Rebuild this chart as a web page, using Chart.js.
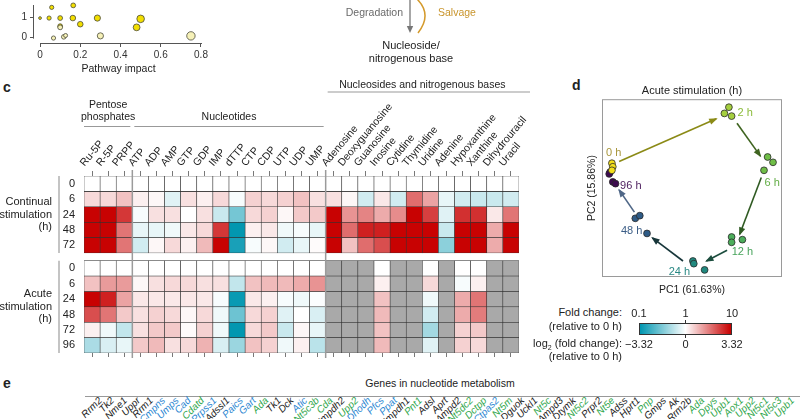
<!DOCTYPE html>
<html>
<head>
<meta charset="utf-8">
<title>Nucleotide metabolism</title>
<script src="https://cdn.jsdelivr.net/npm/chart.js@4.4.1/dist/chart.umd.min.js"></script>
<style>
  body { margin: 0; width: 800px; height: 419px; overflow: hidden; position: relative; background: #fff;
         font-family: 'Liberation Sans', Arial, sans-serif; color: #222; }
  canvas, .txt, .gene, svg { position: absolute; }
  .txt { white-space: nowrap; line-height: 1; }
  .panel { font-weight: bold; font-size: 14px; }
  .gene { font-style: italic; font-size: 10px; line-height: 12px; white-space: nowrap;
          transform-origin: 100% 50%; transform: rotate(-45deg); }
</style>
</head>
<body>

<canvas id="bubbleChart" width="230" height="78" style="left:0;top:0"></canvas>

<svg width="800" height="70" style="left:0;top:0">
  <line x1="410" y1="-2" x2="410" y2="27" stroke="#777" stroke-width="1.3"/>
  <polygon points="410,33 406.8,26 413.2,26" fill="#777"/>
  <path d="M416 -2 Q 433 14 418 33" fill="none" stroke="#d49a2c" stroke-width="1.5"/>
  <text x="403" y="16" text-anchor="end" font-size="10.5" fill="#6a6a6a" font-family="Liberation Sans">Degradation</text>
  <text x="438" y="16" font-size="10.5" fill="#c9952c" font-family="Liberation Sans">Salvage</text>
  <text x="411" y="49" text-anchor="middle" font-size="11" fill="#222" font-family="Liberation Sans">Nucleoside/</text>
  <text x="411" y="62" text-anchor="middle" font-size="11" fill="#222" font-family="Liberation Sans">nitrogenous base</text>
</svg>

<div class="txt panel" style="left:3px;top:80px">c</div>
<canvas id="heatChart" width="540" height="290" style="left:0;top:75px"></canvas>

<div class="txt panel" style="left:572px;top:78px">d</div>
<canvas id="pcaChart" width="240" height="225" style="left:560px;top:75px"></canvas>

<div class="txt" style="right:178px;top:307px;font-size:11px">Fold change:</div>
<div class="txt" style="right:178px;top:321px;font-size:11px">(relative to 0 h)</div>
<div class="txt" style="right:178px;top:338px;font-size:11px">log<sub style="font-size:7px">2</sub> (fold change):</div>
<div class="txt" style="right:178px;top:351px;font-size:11px">(relative to 0 h)</div>
<div id="colorBar" style="position:absolute;left:639px;top:323px;width:93px;height:12px;border:1px solid #333;box-sizing:border-box"></div>
<div style="position:absolute;left:685px;top:320px;width:1px;height:4px;background:#333"></div>
<div style="position:absolute;left:685px;top:334px;width:1px;height:4px;background:#333"></div>
<div class="txt" style="left:639px;top:308px;font-size:11px;transform:translateX(-50%)">0.1</div>
<div class="txt" style="left:685.5px;top:308px;font-size:11px;transform:translateX(-50%)">1</div>
<div class="txt" style="left:732px;top:308px;font-size:11px;transform:translateX(-50%)">10</div>
<div class="txt" style="left:639px;top:339px;font-size:11px;transform:translateX(-50%)">&minus;3.32</div>
<div class="txt" style="left:685.5px;top:339px;font-size:11px;transform:translateX(-50%)">0</div>
<div class="txt" style="left:732px;top:339px;font-size:11px;transform:translateX(-50%)">3.32</div>

<div class="txt panel" style="left:3px;top:376px">e</div>
<div class="txt" style="left:440px;top:378px;font-size:10.5px;transform:translateX(-50%)">Genes in nucleotide metabolism</div>
<div style="position:absolute;left:85px;top:396px;width:715px;height:1px;background:#999"></div>
<div id="genes"></div>

<script>
'use strict';

Chart.defaults.font.family = "'Liberation Sans', Arial, sans-serif";
Chart.defaults.color = '#222';

// ---- Panel b (partial): pathway impact bubbles ----
let impactSig = [0, 0.045, 0.1, 0.163, 0.285, 0.5, 0.2, 0.1, 0.48, 0.058, 0.165];
let logPSig = [0.98, 0.98, 0.98, 0.98, 0.98, 0.94, 0.67, 0.57, 0.51, 1.52, 1.62];
let sizeSig = [1.4, 2.1, 2.4, 2.8, 3.1, 3.8, 2.8, 2.4, 3.4, 2.1, 2.4];
let impactNs = [0.1, 0.067, 0.118, 0.127, 0.3, 0.75];
let logPNs = [0.51, -0.03, 0.03, 0.1, 0.08, 0.08];
let sizeNs = [2.4, 2.1, 2.3, 2.0, 3.1, 4.2];

// ---- Panel c: heatmap, log2 fold change vs 0 h (null = not detected) ----
let metabolites = ['Ru-5P', 'R-5P', 'PRPP', 'ATP', 'ADP', 'AMP', 'GTP', 'GDP', 'IMP', 'dTTP', 'CTP', 'CDP',
  'UTP', 'UDP', 'UMP', 'Adenosine', 'Deoxyguanosine', 'Guanosine', 'Inosine', 'Cytidine', 'Thymidine',
  'Uridine', 'Adenine', 'Hypoxanthine', 'Xanthine', 'Dihydrouracil', 'Uracil'];
let groupNames = [['Pentose', 'phosphates'], ['Nucleotides'], ['Nucleosides and nitrogenous bases']];
let groupSizes = [3, 12, 12];
let continualHours = ['0', '6', '24', '48', '72'];
let acuteHours = ['0', '6', '24', '48', '72', '96'];

let cont0h = [0, 0, 0, 0, 0, 0, 0, 0, 0, 0, 0, 0, 0, 0, 0, 0, 0, 0, 0, 0, 0, 0, 0, 0, 0, 0, 0];
let cont6h = [0.5, 0.5, 0.8, 0.2, 0.1, -0.4, 0.4, 0.2, 0.5, -0.1, 0.6, 0.5, 0.6, 0.8, 0.4,
  0.4, 0.1, -0.6, 0.3, -0.6, 1.9, 1.2, -0.3, -0.6, -0.7, -0.7, -0.6];
let cont24h = [3.3, 3.3, 2.6, -0.1, 0.4, 0.4, 0, 0.4, -0.7, -1.8, 0.5, 0.6, 0.1, 0.7, 0.7,
  3.3, 1.4, 1.6, 1.1, 1.5, 3.3, 2.5, -0.4, 2.7, 2.7, 0.3, 1.8];
let cont48h = [3.3, 3.3, 1.8, -0.3, -0.3, -0.2, 0.3, 0.5, 2.6, -3.3, 0.2, 0.3, -0.2, -0.1, -0.3,
  3.3, 1.9, 2.9, 2.9, 3.3, 3.3, 3.3, -0.7, 3.3, 3.3, 1.1, 3.3];
let cont72h = [3.3, 3.3, 1.8, -0.6, 0.1, 0.5, 0.2, 0.9, 3.3, -3.0, -0.1, 0.1, -0.6, -0.3, 0.05,
  3.3, 0.8, 1.9, 2.3, 3.3, 3.3, 3.3, -1.5, 3.3, 3.3, 1.1, 3.3];

let acute0h = [0, 0, 0, 0, 0, 0, 0, 0, 0, 0, 0, 0, 0, 0, 0,
  null, null, null, 0, null, null, 0, null, 0, 0, null, null];
let acute6h = [0.8, 1.3, 1.3, 0.1, 0.4, 0.5, 0.5, 0.4, 0.4, -0.8, 0.8, 0.9, 0.9, 1.1, 1.4,
  null, null, null, 0.2, null, null, 0.5, null, -0.1, 0.2, null, null];
let acute24h = [3.3, 2.9, 1.2, 0.3, 0.3, 0.3, 0.3, 0.3, -0.1, -3.2, 0.3, 0.2, -0.1, -0.2, -0.05,
  null, null, null, 0.8, null, null, -0.2, null, 1.1, 1.8, null, null];
let acute48h = [2.3, 1.8, 0.7, 0.4, 0.6, 0.5, 0.1, 0.5, -0.2, -1.9, 0.5, 0.6, -0.4, 0, -0.5,
  null, null, null, 0.9, null, null, -0.6, null, 1.1, 1.7, null, null];
let acute72h = [0.2, -0.2, -0.8, 0.4, 0.7, 0.7, 0.05, 0.6, -0.2, -3.3, 0.5, 0.7, -0.7, 0.1, -0.3,
  null, null, null, 0.8, null, null, -1.2, null, 0.6, 0.7, null, null];
let acute96h = [-1.1, -0.5, -0.3, 0.7, 0.9, 0.4, 0.5, 1.0, -0.5, -1.3, 0.8, 0.6, -0.2, 0.2, -0.9,
  null, null, null, 0.9, null, null, -0.4, null, 0.6, 0.5, null, null];

// ---- Panel d: PCA of acute stimulation ----
let timePoints = ['0 h', '2 h', '6 h', '12 h', '24 h', '48 h', '96 h'];
let pc1_0h = [-8.9, -8.8, -8.9];        let pc2_0h = [2.8, 2.4, 2.0];
let pc1_2h = [4.1, 3.6, 4.4];           let pc2_2h = [9.1, 8.4, 8.1];
let pc1_6h = [8.4, 9.0, 8.0];           let pc2_6h = [3.5, 2.9, 2.0];
let pc1_12h = [4.4, 4.4, 5.6];          let pc2_12h = [-5.5, -6.1, -5.8];
let pc1_24h = [0.1, 0.2, 1.4];          let pc2_24h = [-8.2, -8.5, -9.2];
let pc1_48h = [-6.3, -5.8, -5.0];       let pc2_48h = [-3.4, -3.1, -5.1];
let pc1_96h = [-9.1, -9.2, -8.8, -8.5]; let pc2_96h = [1.8, 1.6, 0.7, 0.5];
let arrowFrom = [[-8.1, 3.0], [5.0, 7.3], [7.7, 1.2], [3.9, -7.0], [-1.0, -8.2], [-6.4, -2.7]];
let arrowTo = [[2.7, 7.8], [7.6, 3.6], [5.3, -5.2], [1.6, -8.2], [-4.4, -5.6], [-8.1, -0.2]];
let labelPC1 = [-8.7, 5.9, 8.9, 5.6, -1.4, -6.7, -6.8];
let labelPC2 = [4.0, 8.5, 0.6, -7.2, -9.4, -4.8, 0.2];

// ---- Panel e: gene names (only their ends are in frame) ----
let geneNames = ['Rrm2', 'Tk2', 'Nme1', 'Uppr', 'Rrm1', 'Cmpns', 'Umps', 'Cad', 'Cdatd', 'Prpss1', 'Adssl1',
  'Paics', 'Gart', 'Ada', 'Tk1', 'Dck', 'Atic', 'Nt5c3b', 'Cda', 'Impdh2', 'Upp2', 'Dhodh', 'Pfcs', 'Ppat',
  'Impdh1', 'Pnt1', 'Adsl', 'Aprt', 'Ampd2', 'Nt5dc2', 'Dctpp', 'Ctpas2', 'Nt5m', 'Dguok', 'Uckl1', 'Nt5c',
  'Ampd3', 'Dtymk', 'Nt5c2', 'Prpr2', 'Nt5e', 'Adss', 'Hprt1', 'Pnp', 'Gmps', 'Ak', 'Rrm2b', 'Ada',
  'Dpys', 'Upb1', 'Aox1', 'Upp2', 'Nt5c1', 'Nt5c3', 'Upb1'];
let geneKinds = ['k', 'k', 'k', 'k', 'k', 'b', 'b', 'b', 'g', 'b', 'k', 'b', 'b', 'g', 'k', 'k', 'b', 'g', 'g',
  'k', 'g', 'b', 'b', 'b', 'k', 'g', 'k', 'k', 'k', 'g', 'g', 'b', 'g', 'k', 'k', 'g', 'k', 'k', 'g', 'k', 'g',
  'k', 'k', 'g', 'k', 'k', 'k', 'g', 'g', 'g', 'g', 'g', 'g', 'g', 'g'];
let kindColors = { k: '#222', b: '#2a86d1', g: '#2fa64b' };

// Colour scale: teal (-3.32) -> white (0) -> red (+3.32)
function heatColor(v) {
  if (v === null) return '#a9a9a9';
  let t = Math.max(-1, Math.min(1, v / 3.32));
  let end = t >= 0 ? [200, 0, 0] : [0, 150, 176];
  let a = Math.abs(t);
  let c = end.map(e => Math.round(255 + (e - 255) * a));
  return `rgb(${c.join(',')})`;
}

document.getElementById('colorBar').style.background =
  `linear-gradient(to right, ${heatColor(-3.32)}, ${heatColor(0)}, ${heatColor(3.32)})`;

// Bubble chart
let bubbleAxes = {
  id: 'bubbleAxes',
  afterDraw(chart) {
    let { ctx, chartArea: a, scales: { x, y } } = chart;
    ctx.save();
    ctx.strokeStyle = '#555';
    ctx.lineWidth = 1;
    ctx.beginPath();
    ctx.moveTo(x.getPixelForValue(0), a.bottom + 0.5);
    ctx.lineTo(x.getPixelForValue(0.8) + 1, a.bottom + 0.5);
    ctx.moveTo(a.left - 0.5, a.top);
    ctx.lineTo(a.left - 0.5, y.getPixelForValue(-0.06));
    ctx.stroke();
    ctx.restore();
  }
};

new Chart(document.getElementById('bubbleChart'), {
  type: 'bubble',
  data: {
    datasets: [
      {
        label: 'Not significant',
        data: impactNs.map((v, i) => ({ x: v, y: logPNs[i], r: sizeNs[i] })),
        backgroundColor: '#f6f1b8', borderColor: '#4a4a3a', borderWidth: 0.8, clip: false
      },
      {
        label: 'Significant',
        data: impactSig.map((v, i) => ({ x: v, y: logPSig[i], r: sizeSig[i] })),
        backgroundColor: '#f2de00', borderColor: '#4a4a3a', borderWidth: 0.8, clip: false
      }
    ]
  },
  options: {
    responsive: false,
    animation: false,
    events: [],
    layout: { padding: { left: 0, right: 27, top: 0, bottom: 0 } },
    plugins: { legend: { display: false }, tooltip: { enabled: false } },
    scales: {
      x: {
        type: 'linear', min: -0.03, max: 0.81,
        afterBuildTicks: s => { s.ticks = [0, 0.2, 0.4, 0.6, 0.8].map(v => ({ value: v })); },
        afterFit: s => { s.height = 35; s.paddingLeft = 0; s.paddingRight = 0; },
        ticks: { font: { size: 10 }, color: '#333', padding: 2, callback: v => v === 0 ? '0' : v.toFixed(1) },
        grid: { drawOnChartArea: false, tickLength: 4, color: '#555' },
        border: { display: false },
        title: { display: true, text: 'Pathway impact', font: { size: 10.5 }, padding: { top: 2, bottom: 3 } }
      },
      y: {
        type: 'linear', min: -0.28, max: 1.64,
        afterBuildTicks: s => { s.ticks = [0, 1].map(v => ({ value: v })); },
        afterFit: s => { s.width = 34; s.paddingTop = 0; s.paddingBottom = 0; },
        ticks: { font: { size: 10 }, color: '#333', padding: 3 },
        grid: { drawOnChartArea: false, tickLength: 4, color: '#555' },
        border: { display: false }
      }
    }
  },
  plugins: [bubbleAxes]
});

// Heatmap
let heatRows = [];
[cont0h, cont6h, cont24h, cont48h, cont72h].forEach((vals, i) =>
  heatRows.push({ label: 'Continual ' + continualHours[i] + ' h', tick: continualHours[i], pos: i, vals }));
[acute0h, acute6h, acute24h, acute48h, acute72h, acute96h].forEach((vals, i) =>
  heatRows.push({ label: 'Acute ' + acuteHours[i] + ' h', tick: acuteHours[i], pos: 5.5 + i, vals }));

let heatDecor = {
  id: 'heatDecor',
  afterDraw(chart) {
    let { ctx, chartArea: a, scales: { x, y } } = chart;
    ctx.save();
    ctx.font = "10.5px 'Liberation Sans', Arial, sans-serif";
    ctx.fillStyle = '#222';
    ctx.textAlign = 'center';
    ctx.textBaseline = 'middle';

    // group headers, underlines and separators
    let start = 0;
    groupSizes.forEach((n, g) => {
      let x0 = x.getPixelForValue(start - 0.5);
      let x1 = x.getPixelForValue(start + n - 0.5);
      let cx = (x0 + x1) / 2;
      let lines = groupNames[g];
      let lineY = g === 2 ? 17 : 51.5;
      let textY = g === 2 ? 10 : 42;
      lines.forEach((t, k) => ctx.fillText(t, cx, textY - (lines.length - 1 - k) * 12));
      ctx.strokeStyle = '#999';
      ctx.lineWidth = 1;
      ctx.beginPath();
      ctx.moveTo(x0 + (g === 0 ? 0 : 2), lineY);
      ctx.lineTo(g === 2 ? x1 + 11 : x1 - 2, lineY);
      ctx.stroke();
      if (g > 0) {
        ctx.strokeStyle = '#9b9b9b';
        ctx.lineWidth = 1.5;
        ctx.beginPath();
        ctx.moveTo(x0, a.top - 6);
        ctx.lineTo(x0, a.bottom + 5);
        ctx.stroke();
      }
      start += n;
    });

    // row group labels and side bars
    ctx.textAlign = 'right';
    ctx.font = "11px 'Liberation Sans', Arial, sans-serif";
    let blocks = [
      { text: ['Continual', 'stimulation', '(h)'], from: -0.5, to: 4.5 },
      { text: ['Acute', 'stimulation', '(h)'], from: 5, to: 11 }
    ];
    blocks.forEach(b => {
      let top = y.getPixelForValue(b.from);
      let bottom = y.getPixelForValue(b.to);
      let mid = (top + bottom) / 2;
      b.text.forEach((t, k) => ctx.fillText(t, 52, mid + (k - 1) * 12.5));
      ctx.strokeStyle = '#c4c4c4';
      ctx.lineWidth = 2;
      ctx.beginPath();
      ctx.moveTo(59, top);
      ctx.lineTo(59, bottom);
      ctx.stroke();
    });
    ctx.restore();
  }
};

new Chart(document.getElementById('heatChart'), {
  type: 'bar',
  data: {
    labels: metabolites,
    datasets: heatRows.map(row => ({
      label: row.label,
      data: row.vals.map(() => [row.pos - 0.5, row.pos + 0.5]),
      backgroundColor: row.vals.map(heatColor),
      borderColor: '#333',
      borderWidth: 0.6,
      borderSkipped: false,
      grouped: false,
      barPercentage: 1,
      categoryPercentage: 1
    }))
  },
  options: {
    responsive: false,
    animation: false,
    events: [],
    layout: { padding: { left: 0, right: 21, top: 0, bottom: 0 } },
    plugins: { legend: { display: false }, tooltip: { enabled: false } },
    scales: {
      x: {
        type: 'category',
        position: 'top',
        afterFit: s => { s.height = 101; s.paddingLeft = 0; s.paddingRight = 0; },
        ticks: { minRotation: 50, maxRotation: 50, autoSkip: false, padding: 2, font: { size: 10.5 }, color: '#222' },
        grid: { offset: false, drawOnChartArea: false, tickLength: 5, color: '#555', lineWidth: 0.8 },
        border: { display: false }
      },
      x2: {
        type: 'category',
        position: 'bottom',
        labels: metabolites,
        offset: true,
        afterFit: s => { s.height = 12; s.paddingLeft = 0; s.paddingRight = 0; },
        ticks: { display: false },
        grid: { offset: false, drawOnChartArea: false, tickLength: 4, color: '#555', lineWidth: 0.8 },
        border: { display: false }
      },
      y: {
        type: 'linear',
        reverse: true,
        min: -0.5,
        max: 11,
        afterBuildTicks: s => { s.ticks = heatRows.map(r => ({ value: r.pos })); },
        afterFit: s => { s.width = 84; s.paddingTop = 0; s.paddingBottom = 0; },
        ticks: { autoSkip: false, padding: 9, font: { size: 11 }, color: '#222',
                 callback: (v, i) => heatRows[i].tick },
        grid: { display: false, drawTicks: false },
        border: { display: false }
      }
    }
  },
  plugins: [heatDecor]
});

// PCA
let pointColors = ['#f3df1c', '#a5cf3f', '#6fbe47', '#4cae5b', '#21897f', '#2e5b86', '#3d0b4f'];
let labelColors = ['#a8963c', '#8bbb3a', '#62ad45', '#47a35a', '#2a8884', '#3b5d86', '#4b1c5c'];
let arrowColors = ['#8b8a16', '#3f6420', '#2f5a22', '#1c4d3e', '#17363a', '#4f6787'];
let pc1Sets = [pc1_0h, pc1_2h, pc1_6h, pc1_12h, pc1_24h, pc1_48h, pc1_96h];
let pc2Sets = [pc2_0h, pc2_2h, pc2_6h, pc2_12h, pc2_24h, pc2_48h, pc2_96h];

let pcaDatasets = [];
arrowFrom.forEach((p, i) => pcaDatasets.push({
  label: 'arrow ' + i,
  isArrow: true,
  data: [{ x: p[0], y: p[1] }, { x: arrowTo[i][0], y: arrowTo[i][1] }],
  showLine: true,
  borderColor: arrowColors[i],
  borderWidth: 1.6,
  pointRadius: 0,
  order: 2
}));
timePoints.forEach((t, i) => pcaDatasets.push({
  label: t,
  data: pc1Sets[i].map((v, k) => ({ x: v, y: pc2Sets[i][k] })),
  backgroundColor: pointColors[i],
  borderColor: '#2a2a2a',
  borderWidth: 0.8,
  pointRadius: 3.4,
  order: 1
}));

let pcaDecor = {
  id: 'pcaDecor',
  afterDatasetsDraw(chart) {
    let { ctx, chartArea: a, scales: { x, y } } = chart;
    ctx.save();
    ctx.strokeStyle = '#9a9a9a';
    ctx.lineWidth = 1;
    ctx.strokeRect(a.left + 0.5, a.top + 0.5, a.width - 1, a.height - 1);

    chart.data.datasets.forEach((ds, i) => {
      if (!ds.isArrow) return;
      let pts = chart.getDatasetMeta(i).data;
      let p0 = pts[0], p1 = pts[1];
      let ang = Math.atan2(p1.y - p0.y, p1.x - p0.x);
      let len = 7, half = 3.2;
      ctx.fillStyle = ds.borderColor;
      ctx.beginPath();
      ctx.moveTo(p1.x + 1.5 * Math.cos(ang), p1.y + 1.5 * Math.sin(ang));
      ctx.lineTo(p1.x - len * Math.cos(ang) + half * Math.sin(ang), p1.y - len * Math.sin(ang) - half * Math.cos(ang));
      ctx.lineTo(p1.x - len * Math.cos(ang) - half * Math.sin(ang), p1.y - len * Math.sin(ang) + half * Math.cos(ang));
      ctx.closePath();
      ctx.fill();
    });

    ctx.font = "11px 'Liberation Sans', Arial, sans-serif";
    ctx.textAlign = 'center';
    ctx.textBaseline = 'middle';
    timePoints.forEach((t, i) => {
      ctx.fillStyle = labelColors[i];
      ctx.fillText(t, x.getPixelForValue(labelPC1[i]), y.getPixelForValue(labelPC2[i]));
    });
    ctx.restore();
  }
};

new Chart(document.getElementById('pcaChart'), {
  type: 'scatter',
  data: { datasets: pcaDatasets },
  options: {
    responsive: false,
    animation: false,
    events: [],
    layout: { padding: { left: 22, right: 18, top: 0, bottom: 0 } },
    plugins: {
      legend: { display: false },
      tooltip: { enabled: false },
      title: {
        display: true, fullSize: false, text: 'Acute stimulation (h)', color: '#222',
        font: { size: 11, weight: 'normal' }, padding: { top: 9, bottom: 2 }
      }
    },
    scales: {
      x: {
        min: -10, max: 10,
        afterFit: s => { s.height = 23; },
        ticks: { display: false },
        grid: { display: false },
        border: { display: false },
        title: { display: true, text: 'PC1 (61.63%)', font: { size: 10.5 }, color: '#222', padding: { top: 2, bottom: 4 } }
      },
      y: {
        min: -10, max: 10,
        afterFit: s => { s.width = 20; },
        ticks: { display: false },
        grid: { display: false },
        border: { display: false },
        title: { display: true, text: 'PC2 (15.86%)', font: { size: 10.5 }, color: '#222', padding: { top: 4, bottom: 2 } }
      }
    }
  },
  plugins: [pcaDecor]
});

// Gene name fragments along the bottom edge
let geneBox = document.getElementById('genes');
geneNames.forEach((name, i) => {
  let el = document.createElement('div');
  el.className = 'gene';
  el.textContent = name;
  el.style.color = kindColors[geneKinds[i]];
  el.style.right = (800 - (100 + i * 12.83)) + 'px';
  el.style.top = '393px';
  geneBox.appendChild(el);
});
</script>
</body>
</html>
